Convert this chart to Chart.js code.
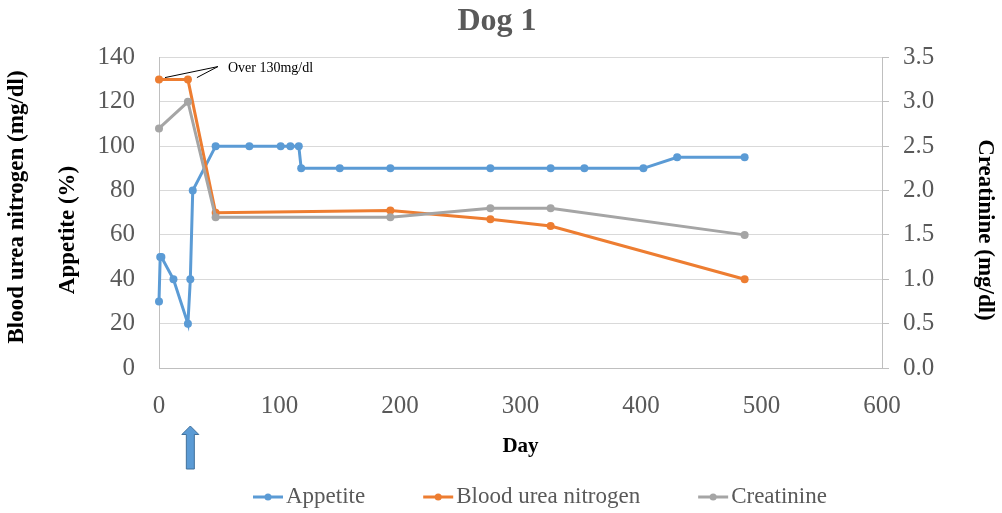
<!DOCTYPE html>
<html>
<head>
<meta charset="utf-8">
<script src="https://cdn.jsdelivr.net/npm/chart.js@4.4.0/dist/chart.umd.min.js"></script>
<style>
    html, body { margin: 0; padding: 0; background: #fff; }
</style>
</head>
<body>
<canvas id="dogChart" width="1002" height="513"></canvas>
<script>
// data
const appetiteDays = [0, 1, 2, 12, 24, 26, 28, 47, 75, 101, 109, 116, 118, 150, 192, 275, 325, 353, 402, 430, 486];
const appetite = [30, 50, 50, 40, 20, 40, 80, 100, 100, 100, 100, 100, 90, 90, 90, 90, 90, 90, 90, 95, 95];
const labDays = [0, 24, 47, 192, 275, 325, 486];
const bun = [130, 130, 70, 71, 67, 64, 40];
const creatinine = [2.7, 3.0, 1.7, 1.7, 1.8, 1.8, 1.5];
const seriesNames = ['Appetite', 'Blood urea nitrogen', 'Creatinine'];
const dayTicks = [0, 100, 200, 300, 400, 500, 600];
const arrowDay = 26;
const noteText = 'Over 130mg/dl';

const BLUE = '#5B9BD5';
const ORANGE = '#ED7D31';
const GRAY = '#A5A5A5';
const TEXT = '#595959';
const FONT = '"Liberation Serif", "Times New Roman", serif';

function toPoints(xs, ys) {
    return xs.map((x, i) => ({ x: x, y: ys[i] }));
}

// legend drawn by hand (line + dot + label)
const bottomLegend = {
    id: 'bottomLegend',
    afterDraw(chart) {
        const ctx = chart.ctx;
        ctx.save();
        ctx.font = '23px ' + FONT;
        ctx.textBaseline = 'middle';
        let x = 253;
        const y = 497;
        chart.data.datasets.forEach(ds => {
            ctx.strokeStyle = ds.borderColor;
            ctx.lineWidth = 3;
            ctx.beginPath();
            ctx.moveTo(x, y);
            ctx.lineTo(x + 30, y);
            ctx.stroke();
            ctx.fillStyle = ds.borderColor;
            ctx.beginPath();
            ctx.arc(x + 15, y, 3.5, 0, Math.PI * 2);
            ctx.fill();
            ctx.fillStyle = TEXT;
            ctx.fillText(ds.label, x + 33, y);
            x += 33 + ctx.measureText(ds.label).width + 58;
        });
        ctx.restore();
    }
};

// "Over 130mg/dl" callout on the first two BUN points
const callout = {
    id: 'callout',
    afterDatasetsDraw(chart) {
        const pts = chart.getDatasetMeta(1).data;
        if (pts.length < 2) return;
        const p0 = pts[0], p1 = pts[1];
        const hubX = p1.x + 30, hubY = p1.y - 13;
        const ctx = chart.ctx;
        ctx.save();
        ctx.strokeStyle = '#000';
        ctx.lineWidth = 1;
        ctx.beginPath();
        ctx.moveTo(hubX, hubY);
        ctx.lineTo(p0.x + 6, p0.y - 2);
        ctx.moveTo(hubX, hubY);
        ctx.lineTo(p1.x + 9, p1.y - 2);
        ctx.stroke();
        ctx.fillStyle = '#000';
        ctx.font = '14px ' + FONT;
        ctx.textBaseline = 'middle';
        ctx.fillText(noteText, hubX + 10, hubY + 2);
        ctx.restore();
    }
};

// blue arrow under the x axis marking the start day
const startArrow = {
    id: 'startArrow',
    afterDraw(chart) {
        const x = chart.scales.x.getPixelForValue(arrowDay);
        const top = chart.chartArea.bottom + 58;
        const ctx = chart.ctx;
        ctx.save();
        ctx.fillStyle = BLUE;
        ctx.strokeStyle = '#41719C';
        ctx.lineWidth = 1;
        ctx.beginPath();
        ctx.moveTo(x, top);
        ctx.lineTo(x + 8.5, top + 8.5);
        ctx.lineTo(x + 4, top + 8.5);
        ctx.lineTo(x + 4, top + 43);
        ctx.lineTo(x - 4, top + 43);
        ctx.lineTo(x - 4, top + 8.5);
        ctx.lineTo(x - 8.5, top + 8.5);
        ctx.closePath();
        ctx.fill();
        ctx.stroke();
        ctx.restore();
    }
};

const ctx = document.getElementById('dogChart').getContext('2d');
const dogChart = new Chart(ctx, {
    type: 'line',
    data: {
        datasets: [
            {
                label: seriesNames[0],
                data: toPoints(appetiteDays, appetite),
                yAxisID: 'y',
                borderColor: BLUE,
                backgroundColor: BLUE,
                order: 3
            },
            {
                label: seriesNames[1],
                data: toPoints(labDays, bun),
                yAxisID: 'y',
                borderColor: ORANGE,
                backgroundColor: ORANGE,
                order: 2
            },
            {
                label: seriesNames[2],
                data: toPoints(labDays, creatinine),
                yAxisID: 'y1',
                borderColor: GRAY,
                backgroundColor: GRAY,
                order: 1
            }
        ]
    },
    options: {
        responsive: false,
        animation: false,
        layout: { padding: { left: -8, right: 0, top: 0, bottom: 49 } },
        elements: {
            line: { borderWidth: 3, tension: 0 },
            point: { radius: 4, borderWidth: 0, hoverRadius: 4 }
        },
        datasets: { line: { clip: false } },
        plugins: {
            legend: { display: false },
            tooltip: { enabled: false },
            title: {
                display: true,
                text: 'Dog 1',
                color: TEXT,
                font: { family: FONT, size: 32, weight: 'bold' },
                padding: { top: 3, bottom: 16 }
            }
        },
        scales: {
            x: {
                type: 'linear',
                min: 0,
                max: 600,
                afterBuildTicks: scale => { scale.ticks = dayTicks.map(v => ({ value: v })); },
                afterFit: scale => { scale.height = 96; },
                grid: { display: false, drawTicks: false },
                border: { display: true, color: '#BFBFBF' },
                ticks: { color: TEXT, font: { family: FONT, size: 25 }, padding: 23 },
                title: {
                    display: true,
                    text: 'Day',
                    color: '#000',
                    font: { family: FONT, size: 21, weight: 'bold' },
                    padding: { top: 0, bottom: 5 }
                }
            },
            y: {
                position: 'left',
                min: 0,
                max: 140,
                ticks: { stepSize: 20, color: TEXT, font: { family: FONT, size: 25 }, padding: 24 },
                afterFit: scale => { scale.width = 167; },
                grid: { color: '#D9D9D9', drawTicks: false },
                border: { display: true, color: '#BFBFBF' },
                title: {
                    display: true,
                    // padding spaces shift each line along the axis as in the original
                    text: ['  Blood urea nitrogen (mg/dl)', 'Appetite (%)      '],
                    color: '#000',
                    font: { family: FONT, size: 23, weight: 'bold', lineHeight: '51px' },
                    padding: { top: 0, bottom: 0 }
                }
            },
            y1: {
                position: 'right',
                min: 0,
                max: 3.5,
                ticks: {
                    stepSize: 0.5,
                    color: TEXT,
                    font: { family: FONT, size: 25 },
                    padding: 14,
                    callback: v => v.toFixed(1)
                },
                afterFit: scale => { scale.width = 120; },
                grid: { drawOnChartArea: false, drawTicks: true, tickLength: 7, color: '#BFBFBF' },
                border: { display: true, color: '#BFBFBF' },
                title: {
                    display: true,
                    text: '      Creatinine (mg/dl)',
                    color: '#000',
                    font: { family: FONT, size: 23, weight: 'bold' },
                    padding: { top: 3, bottom: 0 }
                }
            }
        }
    },
    plugins: [bottomLegend, callout, startArrow]
});
</script>
</body>
</html>
